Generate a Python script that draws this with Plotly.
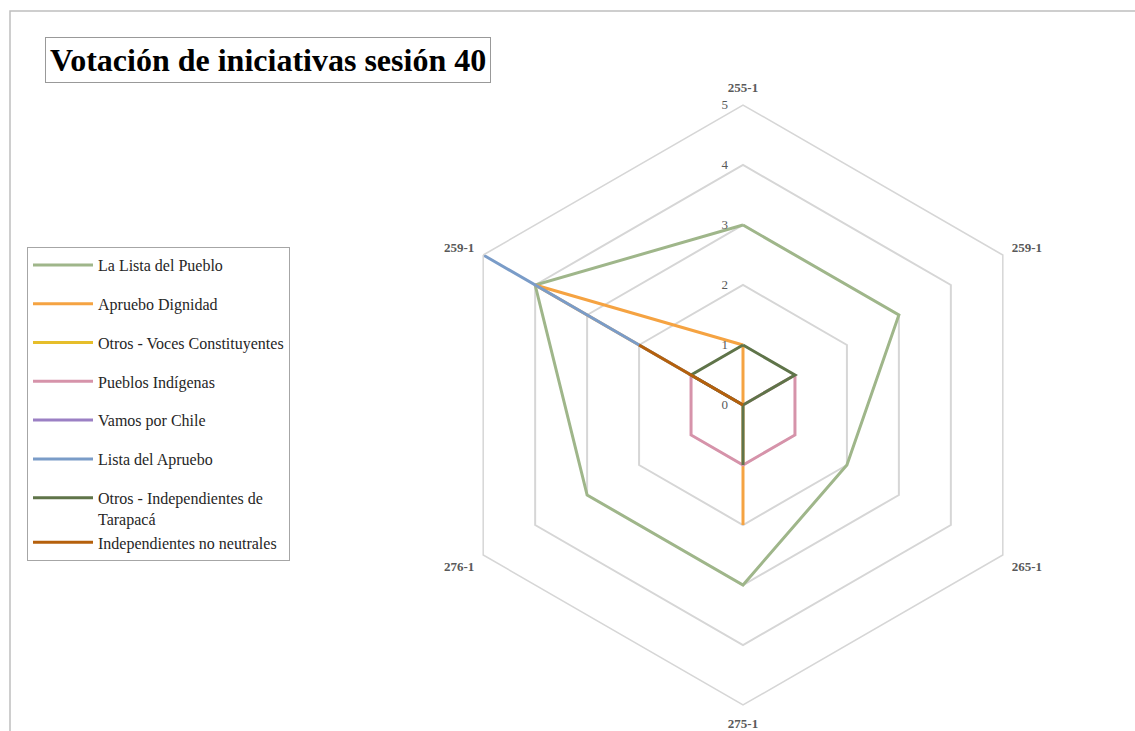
import plotly.graph_objects as go

# Iniciativas votadas (la 259-1 aparece dos veces en el gráfico)
categorias = ["255-1", "259-1", "265-1", "275-1", "276-1", "259-1"]
claves = ["c0", "c1", "c2", "c3", "c4", "c5"]

series = ["La Lista del Pueblo", "Apruebo Dignidad", "Otros - Voces Constituyentes",
          "Pueblos Indígenas", "Vamos por Chile", "Lista del Apruebo",
          "Otros - Independientes de<br>Tarapacá", "Independientes no neutrales"]

votos = [
    [3, 3, 2, 3, 3, 4],   # La Lista del Pueblo
    [1, 0, 0, 2, 0, 4],   # Apruebo Dignidad
    [0, 0, 0, 0, 0, 0],   # Otros - Voces Constituyentes
    [0, 1, 1, 1, 1, 1],   # Pueblos Indígenas
    [0, 0, 0, 0, 0, 0],   # Vamos por Chile
    [0, 0, 0, 0, 0, 5],   # Lista del Apruebo
    [1, 1, 0, 1, 0, 1],   # Otros - Independientes de Tarapacá
    [0, 0, 0, 0, 0, 2],   # Independientes no neutrales
]

colores = ["#9FB68A", "#F5A342", "#E6BE2A", "#D693AA",
           "#9B80C4", "#7A9CC8", "#5F7449", "#B5600C"]

# the two-line entry and the one after it share a legend group (tighter spacing)
grupos = ["g0", "g1", "g2", "g3", "g4", "g5", "g6", "g6"]

radial_ticks = [0, 1, 2, 3, 4, 5]

W, H = 1135, 731
fig = go.Figure()

for nombre, vals, col, grp in zip(series, votos, colores, grupos):
    fig.add_trace(go.Scatterpolar(
        r=vals + [vals[0]],
        theta=claves + [claves[0]],
        mode="lines",
        name=nombre,
        legendgroup=grp,
        line=dict(color=col, width=3),
        hoverinfo="skip",
    ))

serif = "Liberation Serif, Times New Roman, serif"

fig.update_layout(
    width=W, height=H,
    margin=dict(l=0, r=0, t=0, b=0),
    paper_bgcolor="white",
    plot_bgcolor="white",
    font=dict(family=serif, color="#595959"),
    polar=dict(
        domain=dict(x=[443 / W, 1043 / W], y=[1 - 705 / H, 1 - 105 / H]),
        bgcolor="white",
        gridshape="linear",
        radialaxis=dict(
            range=[0, 5], tickvals=radial_ticks, angle=90,
            showline=False, showgrid=True, gridcolor="#D6D6D6", gridwidth=1.5,
            tickfont=dict(family=serif, size=13, color="#595959"),
            ticks="outside", ticklen=10, tickcolor="rgba(0,0,0,0)",
            tickangle=90, side="counterclockwise",
        ),
        angularaxis=dict(
            type="category", categoryarray=claves,
            tickmode="array", tickvals=claves, ticktext=categorias,
            direction="clockwise", rotation=90,
            showline=True, linecolor="#D6D6D6", linewidth=1.5,
            showgrid=False,
            ticks="outside", ticklen=7, tickcolor="rgba(0,0,0,0)",
            tickfont=dict(family=serif, size=13, color="#595959", weight="bold"),
        ),
    ),
    showlegend=True,
    legend=dict(
        x=27 / W, y=1 - 247 / H, xanchor="left", yanchor="top",
        bordercolor="#A6A6A6", borderwidth=1, bgcolor="white",
        font=dict(family=serif, size=16, color="#262626"),
        tracegroupgap=15,
        itemwidth=60,
        valign="top",
    ),
    annotations=[dict(
        text="<b>Votación de iniciativas sesión 40</b>",
        x=45 / W, y=1 - 37 / H, xref="paper", yref="paper",
        xanchor="left", yanchor="top", showarrow=False,
        font=dict(family=serif, size=32, color="black"),
        bordercolor="#999999", borderwidth=1, borderpad=4, bgcolor="white",
    )],
    shapes=[dict(
        type="rect", xref="paper", yref="paper",
        x0=10 / W, x1=1.02, y0=-0.02, y1=1 - 11 / H,
        line=dict(color="#BFBFBF", width=1.5), layer="below",
    )],
)

fig.write_html("out.html")
